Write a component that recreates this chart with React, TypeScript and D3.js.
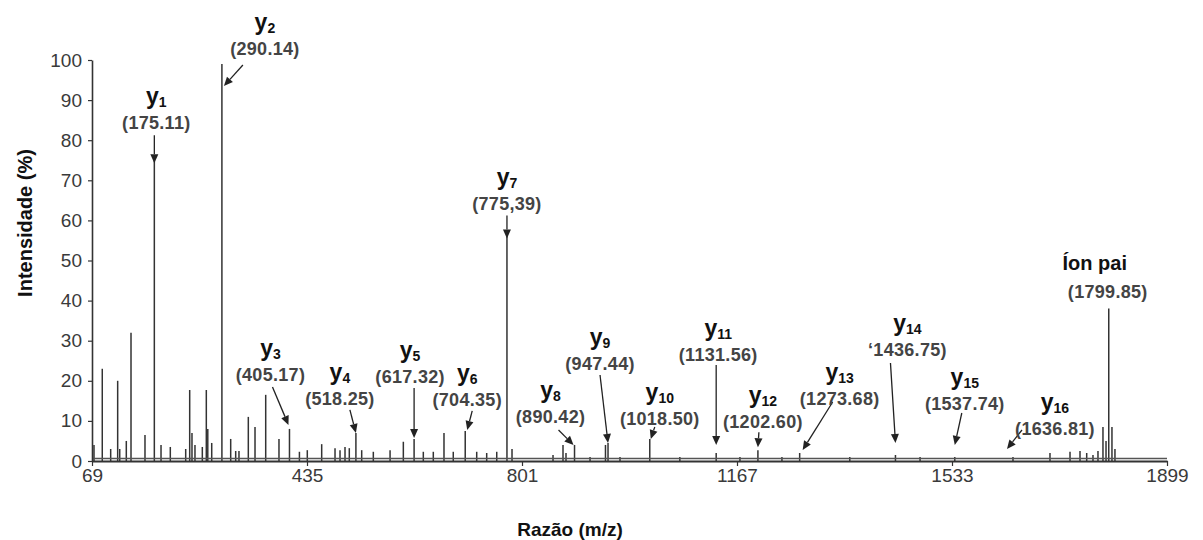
import React, { useEffect, useRef } from 'react';
import * as d3 from 'd3';

const xTicks = [69, 435, 801, 1167, 1533, 1899];
const yTicks = [0, 10, 20, 30, 40, 50, 60, 70, 80, 90, 100];

// unlabelled peaks (m/z, intensity %)
const peakMz = [
  72.4, 86.5, 100.8, 112.7, 116.2, 127.4, 135.4, 159.2, 186.5, 202.3, 228.5, 235.3, 239.2, 244.3,
  256.8, 263.6, 266.1, 272.8, 305.1, 313.6, 319.2, 335.1, 346.5, 364.7, 387.3, 422.1, 435.5, 460,
  482.7, 491.2, 499.7, 507, 528.1, 547.9, 576.4, 599, 633, 650, 668.2, 684, 723.9, 740.9, 758, 784,
  853.8, 870.8, 875.9, 916.8, 943.1, 967.8, 1069.7, 1172, 1243.5, 1359, 1478.6, 1699.8, 1733.9,
  1750.9, 1762.3, 1773, 1781.5, 1790, 1795.2, 1805.3, 1810.4,
];
const peakIntensity = [
  4, 23, 3, 20, 3, 5, 32, 6.5, 4, 3.5, 3, 17.7, 7, 4,
  3.5, 17.7, 8, 4.5, 5.5, 2.5, 2.5, 11, 8.5, 16.5, 5.5, 2.3, 2.7, 4.2,
  3.2, 2.7, 3.5, 3.2, 2.7, 2.3, 2.7, 4.8, 2.3, 2.3, 7, 2.3, 2.3, 2, 2.3, 3,
  1.5, 4, 2, 1, 4, 1, 1, 1, 1, 1, 1, 2, 2.3,
  2.5, 2, 1.5, 2.5, 8.5, 5, 8.5, 3,
];

// labelled ions
const ionNames = ['y', 'y', 'y', 'y', 'y', 'y', 'y', 'y', 'y', 'y', 'y', 'y', 'y', 'y', 'y', 'y', 'Íon pai'];
const ionSubs = ['1', '2', '3', '4', '5', '6', '7', '8', '9', '10', '11', '12', '13', '14', '15', '16', ''];
const ionLabels = [
  '(175.11)', '(290.14)', '(405.17)', '(518.25)', '(617.32)', '(704.35)', '(775,39)', '(890.42)',
  '(947.44)', '(1018.50)', '(1131.56)', '(1202.60)', '(1273.68)', '‘1436.75)', '(1537.74)',
  '(1636.81)', '(1799.85)',
];
const ionMz = [
  175.11, 290.14, 405.17, 518.25, 617.32, 704.35, 775.39, 890.42, 947.44, 1018.5, 1131.56,
  1202.6, 1273.68, 1436.75, 1537.74, 1636.81, 1799.85,
];
const ionIntensity = [75, 99, 8, 7, 5.5, 7.5, 57, 4, 4.5, 5.5, 2, 2.7, 2, 1.5, 1, 1, 38];

// pixel offsets from the peak top: arrow tip, arrow tail, label (value baseline)
const arrowLayout = [
  { tip: [0, 3], tail: [0, -25], label: [2, -31] },
  { tip: [2, 22], tail: [21, 1], label: [43, -9] },
  { tip: [-1, -4], tail: [-17, -42], label: [-19, -48] },
  { tip: [0, 0], tail: [-6, -23], label: [-16, -28] },
  { tip: [0, -1], tail: [0, -51], label: [-4, -56] },
  { tip: [2, -1], tail: [7, -20], label: [2, -25] },
  { tip: [0, 6], tail: [0, -17], label: [0, -22] },
  { tip: [-1, 0], tail: [-16, -15], label: [-24, -22] },
  { tip: [0, 0], tail: [-8, -68], label: [-8, -73] },
  { tip: [1, 0], tail: [5, -12], label: [10, -14] },
  { tip: [0, -8], tail: [0, -88], label: [2, -92] },
  { tip: [0, -3], tail: [1, -18], label: [5, -22] },
  { tip: [3, -3], tail: [33, -51], label: [40, -48] },
  { tip: [0, -12], tail: [-5, -92], label: [12, -99] },
  { tip: [0, -12], tail: [7, -44], label: [10, -47] },
  { tip: [-6, -8], tail: [9, -27], label: [42, -22] },
  { tip: null, tail: null, label: [-1, -11] },
];

const font = '"Liberation Sans", Arial, Helvetica, sans-serif';

const App = () => {
  const svgRef = useRef(null);

  useEffect(() => {
    const svg = d3.select(svgRef.current);
    svg.selectAll('*').remove();

    const x = d3.scaleLinear().domain([69, 1899]).range([92, 1167]);
    const y = d3.scaleLinear().domain([0, 100]).range([461, 60]);

    // spectrum sticks
    const peaks = peakMz.map((m, i) => ({ mz: m, v: peakIntensity[i] }))
      .concat(ionMz.map((m, i) => ({ mz: m, v: ionIntensity[i] })));

    svg.append('g')
      .selectAll('line')
      .data(peaks)
      .enter()
      .append('line')
      .attr('x1', d => x(d.mz))
      .attr('x2', d => x(d.mz))
      .attr('y1', y(0))
      .attr('y2', d => y(d.v))
      .attr('stroke', '#333')
      .attr('stroke-width', 1.5);

    // noisy baseline of the trace
    svg.append('line')
      .attr('x1', x(69)).attr('x2', x(1899))
      .attr('y1', y(0.6)).attr('y2', y(0.6))
      .attr('stroke', '#555')
      .attr('stroke-width', 1.5);

    // Y-axis
    const gy = svg.append('g')
      .attr('transform', `translate(${x(69)},0)`)
      .call(d3.axisLeft(y).tickValues(yTicks).tickSize(4).tickSizeOuter(0).tickPadding(6));
    gy.select('.domain').attr('stroke', '#333').attr('stroke-width', 1.6);
    gy.selectAll('.tick line').attr('stroke', '#333').attr('stroke-width', 1.2);
    gy.selectAll('text')
      .attr('font-family', font)
      .attr('font-size', 19)
      .attr('fill', '#3a3a3a');

    // X-axis
    const gx = svg.append('g')
      .attr('transform', `translate(0,${y(0)})`)
      .call(d3.axisBottom(x).tickValues(xTicks).tickFormat(d3.format('d')).tickSize(5).tickSizeOuter(0).tickPadding(3));
    gx.select('.domain').attr('stroke', '#333').attr('stroke-width', 2.2);
    gx.selectAll('.tick line').attr('stroke', '#333').attr('stroke-width', 1.2);
    gx.selectAll('text')
      .attr('font-family', font)
      .attr('font-size', 19)
      .attr('fill', '#3a3a3a');

    // axis titles
    svg.append('text')
      .attr('transform', 'translate(32,223) rotate(-90)')
      .attr('text-anchor', 'middle')
      .attr('font-family', font)
      .attr('font-weight', 'bold')
      .attr('font-size', 20)
      .attr('fill', '#111')
      .text('Intensidade (%)');

    svg.append('text')
      .attr('x', 570)
      .attr('y', 536)
      .attr('text-anchor', 'middle')
      .attr('font-family', font)
      .attr('font-weight', 'bold')
      .attr('font-size', 19)
      .attr('fill', '#111')
      .text('Razão (m/z)');

    // annotations
    const ann = svg.append('g');
    ionMz.forEach((m, i) => {
      const px = x(m);
      const py = y(ionIntensity[i]);
      const lay = arrowLayout[i];

      if (lay.tip) {
        const tx = px + lay.tip[0], ty = py + lay.tip[1];
        const sx = px + lay.tail[0], sy = py + lay.tail[1];
        const ang = Math.atan2(ty - sy, tx - sx);
        const head = 9, half = 4;
        const bx = tx - head * Math.cos(ang), by = ty - head * Math.sin(ang);
        ann.append('line')
          .attr('x1', sx).attr('y1', sy)
          .attr('x2', bx).attr('y2', by)
          .attr('stroke', '#222')
          .attr('stroke-width', 1.3);
        ann.append('path')
          .attr('d', d3.line()([
            [tx, ty],
            [bx + half * Math.sin(ang), by - half * Math.cos(ang)],
            [bx - half * Math.sin(ang), by + half * Math.cos(ang)],
          ]) + 'Z')
          .attr('fill', '#222');
      }

      const lx = px + lay.label[0];
      const ly = py + lay.label[1];
      ann.append('text')
        .attr('x', lx)
        .attr('y', ly)
        .attr('text-anchor', 'middle')
        .attr('font-family', font)
        .attr('font-weight', 'bold')
        .attr('font-size', 18)
        .attr('letter-spacing', 0.3)
        .attr('fill', '#444')
        .text(ionLabels[i]);

      const name = ann.append('text')
        .attr('x', lx + (ionSubs[i] ? 0 : -13))
        .attr('y', ly - (ionSubs[i] ? 25 : 28))
        .attr('text-anchor', 'middle')
        .attr('font-family', font)
        .attr('font-weight', 'bold')
        .attr('font-size', ionSubs[i] ? 23 : 20)
        .attr('fill', '#111');
      name.append('tspan').text(ionNames[i]);
      if (ionSubs[i]) {
        name.append('tspan')
          .attr('font-size', 14)
          .attr('dy', 3)
          .text(ionSubs[i]);
      }
    });
  }, []);

  return (
    <svg
      ref={svgRef}
      width={1203}
      height={540}
      style={{ position: 'absolute', left: 0, top: 0, background: '#fff' }}
    ></svg>
  );
};

export default App;
